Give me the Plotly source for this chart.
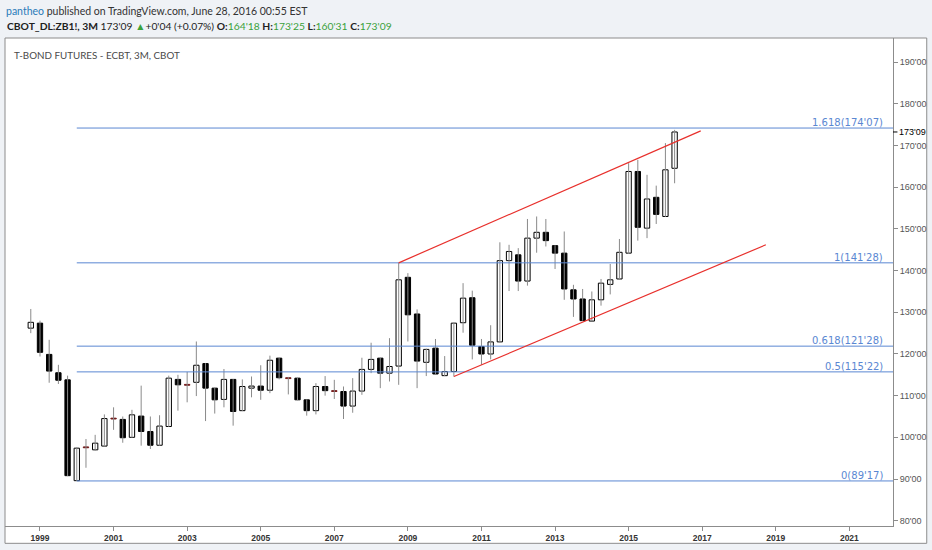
import plotly.graph_objects as go

# quarterly T-bond futures bars, 1998 Q4 .. 2016 Q2
first_year, first_q = 1998, 4
opens = [126.2, 127.4, 119.9, 115.5, 113.8, 89.6, 97.7, 97.0, 97.9, 104.6,
         104.3, 100.0, 105.1, 101.4, 98.1, 102.6, 113.9, 112.7, 113.2, 117.7,
         111.8, 109.1, 113.9, 106.4, 111.8, 112.3, 111.3, 119.0, 114.3, 114.2,
         109.0, 106.4, 112.2, 111.2, 111.0, 107.5, 111.1, 116.3, 119.0, 115.4,
         117.1, 138.4, 129.6, 118.0, 121.4, 114.8, 115.8, 127.5, 133.5, 121.8,
         120.0, 122.9, 142.4, 143.8, 137.5, 147.8, 149.2, 146.0, 144.2, 135.4,
         133.2, 127.9, 133.0, 136.7, 138.0, 144.2, 163.8, 150.2, 157.6, 153.0,
         164.5625]
highs = [130.8, 128.0, 123.4, 117.4, 114.8, 97.6, 99.6, 100.6, 105.5, 107.2,
         105.0, 106.6, 112.4, 105.0, 105.3, 114.8, 115.0, 115.7, 123.0, 117.8,
         111.9, 116.4, 114.0, 113.9, 114.6, 117.3, 119.6, 119.1, 114.5, 114.3,
         109.1, 113.0, 114.7, 113.8, 112.2, 114.2, 119.1, 122.7, 119.1, 123.8,
         141.875, 139.4, 130.7, 121.3, 123.6, 119.5, 127.5, 137.0, 135.2, 123.6,
         126.9, 146.8, 146.2, 145.4, 152.4, 153.0, 152.4, 146.1, 149.4, 136.6,
         135.6, 135.0, 138.0, 141.6, 147.6, 165.8, 166.6, 163.0, 160.4, 170.6,
         173.78]
lows = [125.0, 119.4, 113.1, 112.8, 90.7, 89.53, 92.7, 96.8, 97.8, 101.8,
        98.7, 99.9, 98.0, 97.2, 98.0, 102.5, 106.4, 108.4, 109.9, 103.9,
        105.7, 107.2, 102.8, 106.3, 109.6, 109.0, 110.6, 113.9, 110.3, 108.9,
        105.2, 105.5, 110.0, 109.2, 104.4, 105.9, 110.2, 115.4, 111.8, 113.4,
        112.6, 123.0, 111.8, 114.7, 115.0, 114.7, 114.6, 125.1, 118.7, 117.4,
        118.7, 122.8, 135.1, 135.1, 136.4, 144.3, 145.8, 140.4, 133.0, 128.9,
        128.0, 127.9, 131.6, 134.3, 138.0, 144.0, 147.2, 147.8, 151.2, 152.9,
        160.97]
closes = [127.6, 120.4, 115.9, 113.7, 90.8, 97.4, 97.5, 98.6, 104.5, 104.4,
          99.9, 105.4, 101.4, 98.1, 102.7, 114.2, 112.6, 112.5, 117.3, 111.8,
          109.0, 113.9, 106.2, 112.2, 112.3, 111.3, 118.5, 114.3, 114.1, 109.0,
          106.4, 112.2, 111.2, 111.0, 107.5, 111.1, 116.3, 118.7, 115.4, 117.0,
          137.8, 129.4, 118.3, 121.1, 115.2, 115.8, 127.4, 133.4, 122.1, 120.0,
          122.9, 142.4, 144.6, 137.5, 147.8, 149.2, 147.2, 144.2, 135.6, 133.2,
          128.0, 133.0, 137.0, 137.8, 144.4, 163.8, 150.4, 157.2, 153.5, 164.2,
          173.28]

# fibonacci levels (swing low 2000 -> swing high 2008)
fib_low = 89.53125
fib_high = 141.875
fib_ratios = [0, 0.5, 0.618, 1, 1.618]
fib_labels = ["0(89'17)", "0.5(115'22)", "0.618(121'28)", "1(141'28)", "1.618(174'07)"]
fib_start = 2000.0

# channel lines (time, price)
upper_channel_t = [2008.75, 2016.96]
upper_channel_p = [141.875, 173.55]
lower_channel_t = [2010.25, 2018.73]
lower_channel_p = [114.6, 146.2]

year_ticks = list(range(1999, 2022, 2))
price_ticks = list(range(80, 191, 10))
last_price = 173.28
last_label = "173'09"

# ---- build
t = []
for i in range(len(opens)):
    q = first_q - 1 + i
    t.append(first_year + q // 4 + (q % 4) * 0.25)

x_min, x_max = 1998.049, 2022.186
y_min, y_max = 78.72, 195.83

wick_x, wick_y = [], []
for ti, h, l in zip(t, highs, lows):
    wick_x += [ti, ti, None]
    wick_y += [l, h, None]

base = [min(o, c) for o, c in zip(opens, closes)]
body = [max(abs(c - o), 0.15) for o, c in zip(opens, closes)]
fill = ["white" if c > o + 0.15 else "black" for o, c in zip(opens, closes)]
edge = ["#7a1c1c" if abs(c - o) <= 0.25 else "black" for o, c in zip(opens, closes)]

fig = go.Figure()
fig.add_trace(go.Scatter(x=wick_x, y=wick_y, mode="lines",
                         line=dict(color="#8a8a8a", width=1), hoverinfo="skip"))
fig.add_trace(go.Bar(x=t, y=body, base=base, width=0.145,
                     marker=dict(color=fill, line=dict(color=edge, width=1))))

fib_color = "#5a87d2"
for r, lab in zip(fib_ratios, fib_labels):
    lvl = fib_low + r * (fib_high - fib_low)
    fig.add_trace(go.Scatter(x=[fib_start, x_max], y=[lvl, lvl], mode="lines",
                             line=dict(color=fib_color, width=1), hoverinfo="skip"))
    fig.add_annotation(x=0.9915, xref="paper", y=lvl, yref="y", text=lab,
                       showarrow=False, xanchor="right", yanchor="bottom", yshift=-2,
                       font=dict(family="DejaVu Sans", size=10, color="#5a87d2"))

for ct, cp in [(upper_channel_t, upper_channel_p), (lower_channel_t, lower_channel_p)]:
    fig.add_trace(go.Scatter(x=ct, y=cp, mode="lines",
                             line=dict(color="#e8302c", width=1.2), hoverinfo="skip"))

# white chart box
fig.add_shape(type="rect", xref="paper", yref="paper", x0=0, x1=1.038, y0=-0.0355, y1=1,
              fillcolor="white", line=dict(color="#8c8c8c", width=1), layer="below")
fig.add_shape(type="line", xref="paper", yref="y", x0=1.0, x1=1.005,
              y0=last_price, y1=last_price, line=dict(color="black", width=1))
fig.add_annotation(x=1.005, xref="paper", y=last_price, yref="y", text=last_label,
                   showarrow=False, xanchor="left", yanchor="middle",
                   font=dict(family="Liberation Sans", size=9, color="black"))

fig.add_annotation(x=-0.001, xref="paper", y=1.055, yref="paper", xanchor="left", yanchor="middle",
                   showarrow=False,
                   text="<span style='color:#2b7bb9'>pantheo</span> published on TradingView.com, June 28, 2016 00:55 EST",
                   font=dict(family="Lato", size=10.5, color="#333333"))
green = "#3aa13a"
hdr = ("<b>CBOT_DL:ZB1!, 3M</b> 173'09 <span style='color:%s'>▲</span>+0'04 (+0.07%%) "
       "<b>O:</b><span style='color:%s'>164'18</span> <b>H:</b><span style='color:%s'>173'25</span> "
       "<b>L:</b><span style='color:%s'>160'31</span> <b>C:</b><span style='color:%s'>173'09</span>"
       % (green, green, green, green, green))
fig.add_annotation(x=0.0, xref="paper", y=1.024, yref="paper", xanchor="left", yanchor="middle",
                   showarrow=False, text=hdr, font=dict(family="Lato", size=10.3, color="#222222"))
fig.add_annotation(x=0.008, xref="paper", y=0.966, yref="paper", xanchor="left", yanchor="middle",
                   showarrow=False, text="T-BOND FUTURES - ECBT, 3M, CBOT",
                   font=dict(family="Lato", size=9.8, color="#4a4a4a"))

fig.update_layout(
    width=932, height=550,
    margin=dict(l=5, r=39, t=38, b=24),
    paper_bgcolor="#eff2f6", plot_bgcolor="rgba(0,0,0,0)",
    showlegend=False, barmode="overlay",
    xaxis=dict(range=[x_min, x_max], tickvals=year_ticks, ticktext=["<b>%d</b>" % y for y in year_ticks],
               showgrid=False, zeroline=False, showline=True, linecolor="#8c8c8c",
               ticks="outside", ticklen=4, tickcolor="#8c8c8c",
               tickfont=dict(family="Liberation Sans", size=8.5, color="#333333")),
    yaxis=dict(range=[y_min, y_max], side="right", tickvals=price_ticks,
               ticktext=["%d'00" % p for p in price_ticks],
               showgrid=False, zeroline=False, showline=True, linecolor="#8c8c8c",
               ticks="outside", ticklen=4, tickcolor="#8c8c8c",
               tickfont=dict(family="Liberation Sans", size=9, color="#555555")),
)

fig.write_html("out.html", post_script="document.body.style.margin='0';",
               config={"displayModeBar": False})
